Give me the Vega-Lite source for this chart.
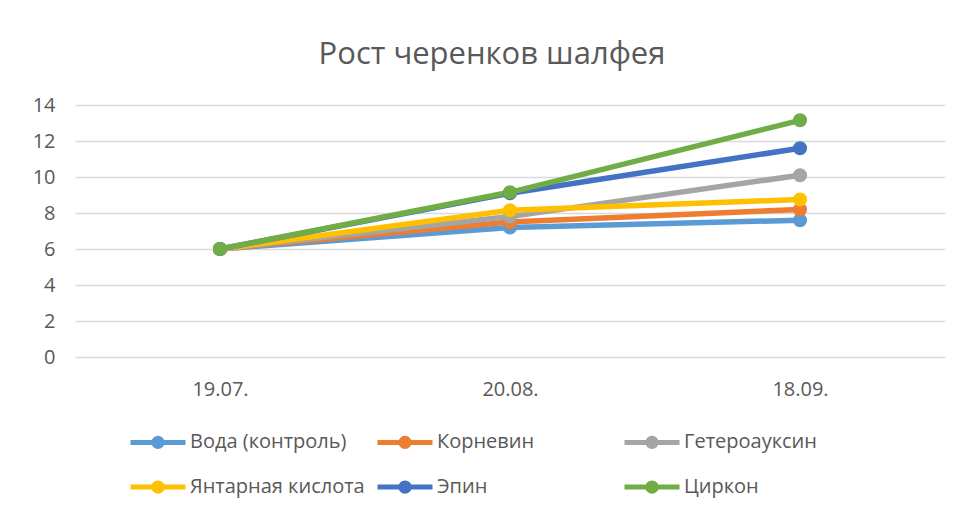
{
  "$schema": "https://vega.github.io/schema/vega-lite/v6.json",
  "width": 870,
  "height": 252,
  "autosize": {"type": "none"},
  "padding": {"left": 75, "top": 105, "right": 21, "bottom": 156},
  "background": "white",
  "title": {
    "text": "Рост черенков шалфея",
    "font": "Open Sans",
    "fontSize": 31,
    "fontWeight": "normal",
    "color": "#595959",
    "anchor": "middle",
    "dx": -18,
    "offset": 24
  },
  "data": {
    "values": [
      {"date": "19.07.", "series": "Вода (контроль)", "v": 6},
      {"date": "20.08.", "series": "Вода (контроль)", "v": 7.2},
      {"date": "18.09.", "series": "Вода (контроль)", "v": 7.6},
      {"date": "19.07.", "series": "Корневин", "v": 6},
      {"date": "20.08.", "series": "Корневин", "v": 7.5},
      {"date": "18.09.", "series": "Корневин", "v": 8.2},
      {"date": "19.07.", "series": "Гетероауксин", "v": 6},
      {"date": "20.08.", "series": "Гетероауксин", "v": 7.8},
      {"date": "18.09.", "series": "Гетероауксин", "v": 10.1},
      {"date": "19.07.", "series": "Янтарная кислота", "v": 6},
      {"date": "20.08.", "series": "Янтарная кислота", "v": 8.15},
      {"date": "18.09.", "series": "Янтарная кислота", "v": 8.75},
      {"date": "19.07.", "series": "Эпин", "v": 6},
      {"date": "20.08.", "series": "Эпин", "v": 9.1},
      {"date": "18.09.", "series": "Эпин", "v": 11.6},
      {"date": "19.07.", "series": "Циркон", "v": 6},
      {"date": "20.08.", "series": "Циркон", "v": 9.15},
      {"date": "18.09.", "series": "Циркон", "v": 13.15}
    ]
  },
  "mark": {"type": "line", "strokeWidth": 5.5, "point": {"size": 200, "filled": true, "opacity": 1}},
  "encoding": {
    "x": {
      "field": "date",
      "type": "ordinal",
      "sort": null,
      "scale": {"type": "point", "padding": 0.5},
      "axis": {
        "title": null,
        "labelAngle": 0,
        "domain": false,
        "ticks": false,
        "grid": false,
        "labelFont": "Open Sans",
        "labelFontSize": 20,
        "labelColor": "#595959",
        "labelPadding": 22
      }
    },
    "y": {
      "field": "v",
      "type": "quantitative",
      "scale": {"domain": [0, 14], "nice": false},
      "axis": {
        "title": null,
        "values": [0, 2, 4, 6, 8, 10, 12, 14],
        "domain": false,
        "ticks": false,
        "grid": true,
        "gridColor": "#d9d9d9",
        "gridWidth": 1.5,
        "labelFont": "Open Sans",
        "labelFontSize": 20,
        "labelColor": "#595959",
        "labelPadding": 20
      }
    },
    "color": {
      "field": "series",
      "type": "nominal",
      "sort": ["Вода (контроль)", "Корневин", "Гетероауксин", "Янтарная кислота", "Эпин", "Циркон"],
      "scale": {
        "domain": ["Вода (контроль)", "Корневин", "Гетероауксин", "Янтарная кислота", "Эпин", "Циркон"],
        "range": ["#5B9BD5", "#ED7D31", "#A5A5A5", "#FFC000", "#4472C4", "#70AD47"]
      },
      "legend": {
        "title": null,
        "orient": "none",
        "legendX": 53,
        "legendY": 307,
        "direction": "horizontal",
        "columns": 3,
        "gridAlign": "all",
        "columnPadding": 2,
        "rowPadding": -7,
        "symbolType": "M-1,0H1M0.15,0A0.15,0.15,0,1,1,-0.15,0A0.15,0.15,0,1,1,0.15,0Z",
        "symbolSize": 3025,
        "symbolStrokeWidth": 5,
        "symbolOpacity": 1,
        "labelFont": "Open Sans",
        "labelFontSize": 20,
        "labelColor": "#595959",
        "labelOffset": 2,
        "labelLimit": 400
      }
    }
  },
  "config": {"view": {"stroke": null}}
}
